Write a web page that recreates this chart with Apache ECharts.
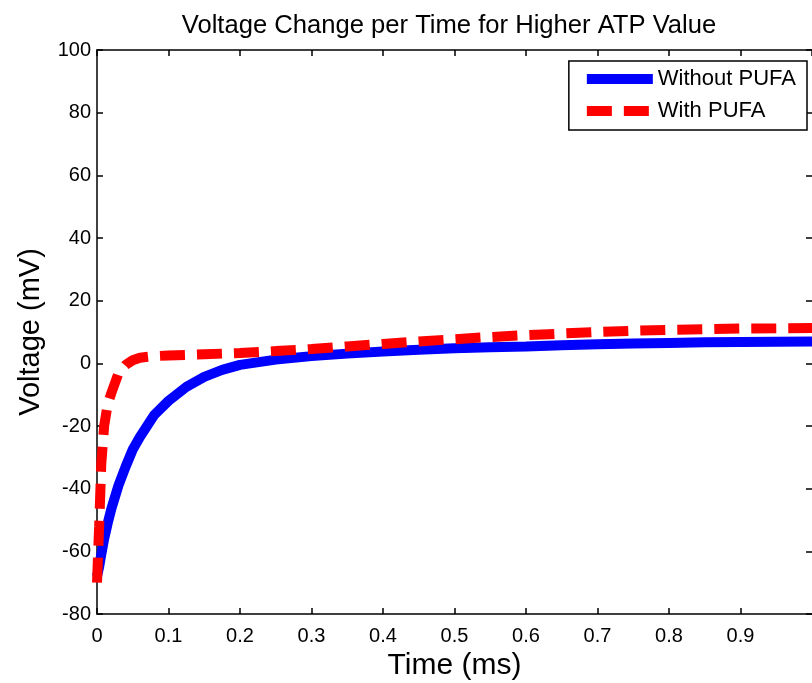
<!DOCTYPE html>
<html>
<head>
<meta charset="utf-8">
<script src="https://cdn.jsdelivr.net/npm/echarts@6/dist/echarts.min.js"></script>
<style>
  html, body { margin: 0; padding: 0; background: #fff; }
  #main { width: 812px; height: 683px; }
</style>
</head>
<body>
<div id="main"></div>
<script>
// values
var timeMs = [0, 0.003, 0.006, 0.01, 0.015, 0.02, 0.03, 0.04, 0.05, 0.06, 0.08, 0.1,
  0.125, 0.15, 0.175, 0.2, 0.25, 0.3, 0.35, 0.4, 0.45, 0.5, 0.55, 0.6, 0.65, 0.7,
  0.75, 0.8, 0.85, 0.9, 0.95, 1.0];
var withoutPufa = [-68, -65, -61, -56, -51, -46.5, -39, -33, -27.5, -23.5, -16.5, -12,
  -7.5, -4.3, -2.1, -0.5, 1.2, 2.3, 3.1, 3.8, 4.3, 4.8, 5.1, 5.4, 5.8, 6.1,
  6.3, 6.5, 6.7, 6.8, 6.9, 7.0];
var withPufa = [-70, -52, -32, -20, -13, -9.5, -3.2, -0.5, 1, 1.8, 2.3, 2.5,
  2.7, 2.9, 3.1, 3.3, 3.9, 4.6, 5.4, 6.2, 7.0, 7.7, 8.4, 9.0, 9.5, 10.0,
  10.4, 10.7, 10.9, 11.1, 11.2, 11.3];
var seriesNames = ['Without PUFA', 'With PUFA'];

function pairs(ys) {
  return timeMs.map(function (t, i) { return [t, ys[i]]; });
}

var font = 'Liberation Sans, Arial, Helvetica, sans-serif';
var myChart = echarts.init(document.getElementById('main'), null, { renderer: 'canvas' });

var tickStyle = { show: true, inside: true, length: 6, lineStyle: { color: '#000', width: 1.5 } };
var lineBlack = { show: true, onZero: false, lineStyle: { color: '#000', width: 1.5 } };

var option = {
  animation: false,
  backgroundColor: '#fff',
  textStyle: { fontFamily: font, color: '#000' },
  title: {
    text: 'Voltage Change per Time for Higher ATP Value',
    left: 444,
    top: 8,
    textAlign: 'center',
    textStyle: { fontFamily: font, fontSize: 25.6, fontWeight: 'normal', color: '#000' }
  },
  legend: {
    orient: 'vertical',
    right: 5,
    top: 61,
    padding: [7, 11, 8, 13],
    itemWidth: 66,
    itemHeight: 24,
    itemGap: 10,
    borderColor: '#000',
    borderWidth: 1.5,
    borderRadius: 0,
    backgroundColor: '#fff',
    textStyle: { fontFamily: font, fontSize: 22, color: '#000' },
    data: [
      { name: seriesNames[0], itemStyle: { opacity: 0 },
        lineStyle: { width: 10, color: '#0000ff' } },
      { name: seriesNames[1], itemStyle: { opacity: 0 },
        lineStyle: { width: 10, color: '#ff0000', type: [25, 12] } }
    ]
  },
  grid: { left: 97, right: 0, top: 50, bottom: 69, outerBoundsMode: 'none' },
  xAxis: [{
    type: 'value',
    min: 0, max: 1, interval: 0.1,
    name: 'Time (ms)',
    nameLocation: 'middle',
    nameGap: 32,
    nameTextStyle: { fontFamily: font, fontSize: 30, color: '#000' },
    axisLine: lineBlack,
    axisTick: tickStyle,
    axisLabel: { fontFamily: font, fontSize: 20, color: '#000', margin: 12, showMaxLabel: false },
    splitLine: { show: false }
  }, {
    type: 'value', position: 'top',
    min: 0, max: 1, interval: 0.1,
    axisLine: lineBlack,
    axisTick: tickStyle,
    axisLabel: { show: false },
    splitLine: { show: false }
  }],
  yAxis: [{
    type: 'value',
    min: -80, max: 100, interval: 20,
    name: 'Voltage (mV)',
    nameLocation: 'middle',
    nameGap: 52,
    nameTextStyle: { fontFamily: font, fontSize: 29, color: '#000' },
    axisLine: lineBlack,
    axisTick: tickStyle,
    axisLabel: { fontFamily: font, fontSize: 20, color: '#000', margin: 6 },
    splitLine: { show: false }
  }, {
    type: 'value', position: 'right',
    min: -80, max: 100, interval: 20,
    axisLine: { show: false, onZero: false },
    axisTick: tickStyle,
    axisLabel: { show: false },
    splitLine: { show: false }
  }],
  series: [
    {
      name: seriesNames[0],
      type: 'line',
      showSymbol: false,
      symbol: 'none',
      data: pairs(withoutPufa),
      itemStyle: { color: '#0000ff' },
      lineStyle: { color: '#0000ff', width: 10 }
    },
    {
      name: seriesNames[1],
      type: 'line',
      showSymbol: false,
      symbol: 'none',
      data: pairs(withPufa),
      itemStyle: { color: '#ff0000' },
      lineStyle: { color: '#ff0000', width: 10, type: [25, 12] }
    }
  ]
};

myChart.setOption(option);
</script>
</body>
</html>
